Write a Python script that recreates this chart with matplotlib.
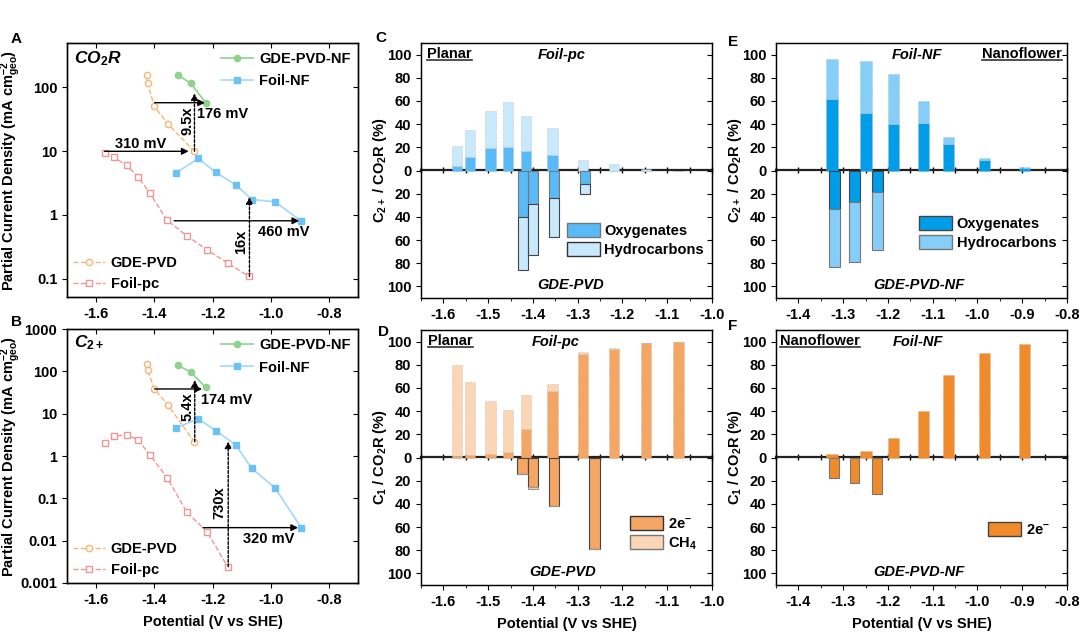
import matplotlib
matplotlib.use("Agg")
import matplotlib.pyplot as plt
from matplotlib.ticker import FixedLocator, MultipleLocator, NullLocator
from matplotlib.lines import Line2D
from matplotlib.patches import Patch

plt.rcParams['font.family'] = ['Liberation Sans', 'DejaVu Sans']
plt.rcParams['font.weight'] = 'bold'
plt.rcParams['axes.labelweight'] = 'bold'
plt.rcParams['axes.unicode_minus'] = False
plt.rcParams['mathtext.fontset'] = 'custom'
plt.rcParams['mathtext.rm'] = 'Liberation Sans:bold'
plt.rcParams['mathtext.bf'] = 'Liberation Sans:bold'
plt.rcParams['mathtext.it'] = 'Liberation Sans:italic:bold'
plt.rcParams['mathtext.default'] = 'rm'

# potentials (V vs SHE)
v_pc = [-1.570, -1.540, -1.495, -1.456, -1.415, -1.356, -1.288, -1.219, -1.148, -1.075]
v_gde = [-1.426, -1.423, -1.400, -1.353, -1.263]
v_gde_nf = [-1.320, -1.274, -1.224]
v_nf = [-1.325, -1.249, -1.188, -1.120, -1.065, -0.985, -0.895]
v_gde_bar_c = [-1.422, -1.399, -1.353, -1.283]
v_gde_bar_d = [-1.423, -1.400, -1.353, -1.263]

# A: CO2R partial current density (mA cm-2)
co2r_gde = [156, 114, 50, 26.5, 9.9]
co2r_gde_nf = [156, 114, 57]
co2r_nf = [4.57, 7.64, 4.62, 2.97, 1.74, 1.61, 0.80]
co2r_pc = [9.15, 8.02, 5.94, 3.96, 2.18, 0.826, 0.471, 0.285, 0.177, 0.109]

# B: C2+ partial current density
c2_gde = [152, 106, 39, 16, 2.18]
c2_gde_nf = [139, 96, 42]
c2_nf = [4.58, 7.62, 3.96, 1.82, 0.51, 0.175, 0.0203]
c2_pc = [1.99, 2.92, 3.19, 2.39, 1.06, 0.31, 0.047, 0.0163, 0.00243]

# C: C2+ / CO2R (%), planar
c_pc_oxy = [4, 12, 19, 20, 17, 13, 0, 0, 0, 0]
c_pc_hc = [17, 23, 32.5, 39.5, 30, 24, 9.3, 5.5, 1.4, 0]
c_gde_oxy = [40, 29, 23.4, 11.8]
c_gde_hc = [46, 43.5, 34.1, 8.7]

# D: C1 / CO2R (%), planar
d_pc_2e = [1, 2, 3, 5, 25, 57, 89, 94, 98.5, 100]
d_pc_ch4 = [78.7, 63, 45.7, 36.4, 28.6, 6.8, 1.7, 0.5, 0.5, 0]
d_gde_2e = [13.9, 25.5, 41.5, 79]
d_gde_ch4 = [0.5, 1.5, 0.5, 0]

# E: C2+ / CO2R (%), nanoflower
e_nf_oxy = [62, 49.6, 40.3, 40.9, 23, 9.2, 2.5]
e_nf_hc = [34.3, 44.6, 43.3, 19.3, 5.8, 1.2, 0.1]
e_gde_oxy = [33.4, 26.8, 18.7]
e_gde_hc = [49.6, 51.9, 49.9]

# F: C1 / CO2R (%), nanoflower
f_nf_2e = [2.9, 5.2, 16.5, 40, 71, 89.9, 98]
f_gde_2e = [17.4, 21.7, 31.3]

W, H = 1080, 642
def box(l, t, r, b):
    return [l / W, 1 - b / H, (r - l) / W, (b - t) / H]

fig = plt.figure(figsize=(10.8, 6.42), dpi=100)
axA = fig.add_axes(box(67, 43, 358, 297))
axB = fig.add_axes(box(67, 329, 358, 583))
axC = fig.add_axes(box(421, 43, 712, 298))
axD = fig.add_axes(box(421, 330, 712, 585))
axE = fig.add_axes(box(776, 43, 1067, 298))
axF = fig.add_axes(box(776, 330, 1067, 585))

green = '#8dd28d'
blue = '#6cc2f2'
blue_line = '#a3d8f6'
orange = '#f7b676'
red = '#f09696'
TF = 10.5
LF = 10.5

underlines = []


def arrow(ax, x0, y0, x1, y1, dashed=False):
    ax.annotate('', xy=(x1, y1), xytext=(x0, y0),
                arrowprops=dict(arrowstyle='-|>', color='black', lw=1.0,
                                linestyle=(0, (2, 1.2)) if dashed else '-',
                                shrinkA=0, shrinkB=0, mutation_scale=10))


def mirror(ax, yticks, xticks=None):
    # right (and top) ticks point inward, while left/bottom point outward
    ty = ax.twinx()
    ty.set_yscale(ax.get_yscale())
    ty.set_ylim(ax.get_ylim())
    ty.yaxis.set_major_locator(FixedLocator(yticks))
    ty.yaxis.set_minor_locator(NullLocator())
    ty.tick_params(axis='y', direction='in', length=3.5, labelright=False)
    twins = [ty]
    if xticks is not None:
        tx = ax.twiny()
        tx.set_xlim(ax.get_xlim())
        tx.xaxis.set_major_locator(FixedLocator(xticks))
        tx.tick_params(axis='x', direction='in', length=3.5, labeltop=False)
        twins.append(tx)
    for a in twins:
        for s in a.spines.values():
            s.set_linewidth(0.9)


def line_panel(ax, gde, gde_nf, nf, pc, ylim, yticks, yticklabels):
    ax.set_yscale('log')
    lg1, = ax.plot(v_gde_nf, gde_nf, '-o', color=green, ms=4.5, lw=1.2, label='GDE-PVD-NF')
    lg2, = ax.plot(v_nf, nf, '-s', color=blue_line, mfc=blue, mec=blue, ms=4.5, lw=1.2, label='Foil-NF')
    lg3, = ax.plot(v_gde, gde, '--o', color=orange, mfc='white', mec=orange, ms=4.5, lw=1.0, label='GDE-PVD')
    lg4, = ax.plot(v_pc[:len(pc)], pc, '--s', color=red, mfc='white', mec=red, ms=4.5, lw=1.0, label='Foil-pc')
    ax.set_xlim(-1.7, -0.7)
    ax.set_ylim(*ylim)
    ax.xaxis.set_major_locator(FixedLocator([-1.6, -1.4, -1.2, -1.0, -0.8]))
    ax.set_xticklabels(['-1.6', '-1.4', '-1.2', '-1.0', '-0.8'])
    ax.yaxis.set_major_locator(FixedLocator(yticks))
    ax.yaxis.set_minor_locator(NullLocator())
    ax.set_yticklabels(yticklabels)
    ax.tick_params(direction='out', length=3.5, labelsize=TF)
    ax.set_ylabel('Partial Current Density (mA cm$^{-2}_{geo}$)', fontsize=LF)
    ax.yaxis.set_label_coords(-0.15, 0.5)
    for s in ax.spines.values():
        s.set_linewidth(0.9)
    l1 = ax.legend(handles=[lg1, lg2], loc='upper left', bbox_to_anchor=(0.5, 1.0),
                   frameon=False, fontsize=LF, handlelength=2.2, handletextpad=0.4,
                   labelspacing=0.6, borderaxespad=0.2)
    ax.add_artist(l1)
    ax.legend(handles=[lg3, lg4], loc='lower left', bbox_to_anchor=(-0.01, -0.01),
              frameon=False, fontsize=LF, handlelength=2.2, handletextpad=0.4,
              labelspacing=0.45, borderaxespad=0.2)
    mirror(ax, yticks, [-1.6, -1.4, -1.2, -1.0, -0.8])


line_panel(axA, co2r_gde, co2r_gde_nf, co2r_nf, co2r_pc, (0.052, 490),
           [0.1, 1, 10, 100], ['0.1', '1', '10', '100'])
axA.text(0.024, 0.94, r'$\mathit{CO_2R}$', transform=axA.transAxes, fontsize=12.5, va='center')
arrow(axA, -1.571, 9.9, -1.282, 9.9)
axA.text(-1.447, 13.1, '310 mV', ha='center', va='center', fontsize=LF)
arrow(axA, -1.399, 57, -1.226, 57)
axA.text(-1.253, 38.4, '176 mV', ha='left', va='center', fontsize=LF)
arrow(axA, -1.262, 9.9, -1.262, 80, dashed=True)
axA.text(-1.287, 30, '9.5x', rotation=90, ha='center', va='center', fontsize=LF)
arrow(axA, -1.332, 0.81, -0.902, 0.81)
axA.text(-0.956, 0.55, '460 mV', ha='center', va='center', fontsize=LF)
arrow(axA, -1.073, 0.109, -1.073, 1.9, dashed=True)
axA.text(-1.101, 0.38, '16x', rotation=90, ha='center', va='center', fontsize=LF)

line_panel(axB, c2_gde, c2_gde_nf, c2_nf, c2_pc, (0.001, 1000),
           [0.001, 0.01, 0.1, 1, 10, 100, 1000],
           ['0.001', '0.01', '0.1', '1', '10', '100', '1000'])
axB.text(0.024, 0.945, r'$\mathit{C_{2+}}$', transform=axB.transAxes, fontsize=12.5, va='center')
arrow(axB, -1.399, 38.3, -1.236, 38.3)
axB.text(-1.153, 21.4, '174 mV', ha='center', va='center', fontsize=LF)
arrow(axB, -1.261, 2.17, -1.261, 62, dashed=True)
axB.text(-1.286, 15.0, '5.4x', rotation=90, ha='center', va='center', fontsize=LF)
arrow(axB, -1.146, 0.00243, -1.146, 2.2, dashed=True)
axB.text(-1.176, 0.078, '730x', rotation=90, ha='center', va='center', fontsize=LF)
arrow(axB, -1.233, 0.0203, -0.906, 0.0203)
axB.text(-1.008, 0.011, '320 mV', ha='center', va='center', fontsize=LF)
axB.set_xlabel('Potential (V vs SHE)', fontsize=LF, labelpad=6)


def bar_panel(ax, xlim, xticks, ylabel):
    ax.set_xlim(*xlim)
    ax.set_ylim(-110, 110)
    yt = list(range(-100, 101, 20))
    ax.yaxis.set_major_locator(FixedLocator(yt))
    ax.set_yticklabels([str(abs(v)) for v in yt])
    ax.xaxis.set_major_locator(FixedLocator(xticks))
    ax.set_xticklabels(['%.1f' % v for v in xticks])
    ax.xaxis.set_minor_locator(MultipleLocator(0.05))
    ax.tick_params(direction='out', length=3.5, labelsize=TF)
    ax.tick_params(which='minor', direction='out', length=2.5)
    ax.set_ylabel(ylabel, fontsize=LF)
    ax.yaxis.set_label_coords(-0.11, 0.5)
    for s in ax.spines.values():
        s.set_linewidth(0.9)
    zero = ax.secondary_xaxis(0.5)
    zero.set_xticks(xticks)
    zero.xaxis.set_minor_locator(MultipleLocator(0.05))
    zero.tick_params(which='both', direction='inout', length=5, width=1.0,
                     labeltop=False, labelbottom=False)
    for s in zero.spines.values():
        s.set_linewidth(1.6)
        s.set_color('#222222')
    mirror(ax, yt)


def label_text(ax, x, y, s, ha='center', italic=True, underline=False):
    t = ax.text(x, y, s, transform=ax.transAxes, ha=ha, va='center', fontsize=LF,
                style='italic' if italic else 'normal')
    if underline:
        underlines.append(t)


xt_c = [-1.6, -1.5, -1.4, -1.3, -1.2, -1.1, -1.0]
xt_e = [-1.4, -1.3, -1.2, -1.1, -1.0, -0.9, -0.8]
leg_kw = dict(loc='upper left', frameon=False, fontsize=LF, handlelength=2.3,
              handleheight=1.1, handletextpad=0.3, labelspacing=0.3)

# C
c_oxy, c_hc = '#58bbf8', '#c8e8fc'
bar_panel(axC, (-1.65, -1.0), xt_c, 'C$_{2+}$ / CO$_2$R (%)')
top_kw = dict(edgecolor='#b0b0b0', linewidth=0.5, linestyle=':')
bot_kw = dict(edgecolor='#444444', linewidth=0.8)
axC.bar(v_pc, c_pc_oxy, width=0.023, color=c_oxy, **top_kw)
axC.bar(v_pc, c_pc_hc, width=0.023, bottom=c_pc_oxy, color=c_hc, **top_kw)
axC.bar(v_gde_bar_c, [-v for v in c_gde_oxy], width=0.022, color=c_oxy, edgecolor='#777777', linewidth=0.8)
axC.bar(v_gde_bar_c, [-v for v in c_gde_hc], width=0.022, bottom=[-v for v in c_gde_oxy],
        color=c_hc, **bot_kw)
axC.legend(handles=[Patch(facecolor=c_oxy, edgecolor='#777777', label='Oxygenates'),
                    Patch(facecolor=c_hc, edgecolor='#333333', label='Hydrocarbons')],
           bbox_to_anchor=(0.455, 0.345), **leg_kw)
label_text(axC, 0.021, 0.957, 'Planar', ha='left', italic=False, underline=True)
label_text(axC, 0.485, 0.953, 'Foil-pc')
label_text(axC, 0.515, 0.052, 'GDE-PVD')

# D
d_2e, d_ch4 = '#f4a664', '#fad6b6'
bar_panel(axD, (-1.65, -1.0), xt_c, 'C$_1$ / CO$_2$R (%)')
axD.bar(v_pc, d_pc_2e, width=0.023, color=d_2e, **top_kw)
axD.bar(v_pc, d_pc_ch4, width=0.023, bottom=d_pc_2e, color=d_ch4, **top_kw)
axD.bar(v_gde_bar_d, [-v for v in d_gde_2e], width=0.024, color=d_2e, **bot_kw)
axD.bar(v_gde_bar_d, [-v for v in d_gde_ch4], width=0.024, bottom=[-v for v in d_gde_2e],
        color=d_ch4, edgecolor='#999999', linewidth=0.8)
axD.legend(handles=[Patch(facecolor=d_2e, edgecolor='#333333', label='2e$^{-}$'),
                    Patch(facecolor=d_ch4, edgecolor='#777777', label='CH$_4$')],
           bbox_to_anchor=(0.672, 0.322), **leg_kw)
label_text(axD, 0.024, 0.957, 'Planar', ha='left', italic=False, underline=True)
label_text(axD, 0.464, 0.953, 'Foil-pc')
label_text(axD, 0.488, 0.052, 'GDE-PVD')
axD.set_xlabel('Potential (V vs SHE)', fontsize=LF, labelpad=6)

# E
e_oxy, e_hc = '#009de8', '#84cef8'
bar_panel(axE, (-1.45, -0.8), xt_e, 'C$_{2+}$ / CO$_2$R (%)')
axE.bar(v_nf, e_nf_oxy, width=0.025, color=e_oxy, **top_kw)
axE.bar(v_nf, e_nf_hc, width=0.025, bottom=e_nf_oxy, color=e_hc, **top_kw)
axE.bar(v_gde_nf, [-v for v in e_gde_oxy], width=0.025, color=e_oxy, **bot_kw)
axE.bar(v_gde_nf, [-v for v in e_gde_hc], width=0.025, bottom=[-v for v in e_gde_oxy],
        color=e_hc, edgecolor='#777777', linewidth=0.8)
axE.legend(handles=[Patch(facecolor=e_oxy, edgecolor='#444444', label='Oxygenates'),
                    Patch(facecolor=e_hc, edgecolor='#777777', label='Hydrocarbons')],
           bbox_to_anchor=(0.446, 0.374), **leg_kw)
label_text(axE, 0.485, 0.953, 'Foil-NF')
label_text(axE, 0.983, 0.957, 'Nanoflower', ha='right', italic=False, underline=True)
label_text(axE, 0.491, 0.052, 'GDE-PVD-NF')

# F
f_2e = '#f08b2c'
bar_panel(axF, (-1.45, -0.8), xt_e, 'C$_1$ / CO$_2$R (%)')
axF.bar(v_nf, f_nf_2e, width=0.025, color=f_2e, **top_kw)
axF.bar(v_gde_nf, [-v for v in f_gde_2e], width=0.021, color=f_2e, edgecolor='#777777', linewidth=0.8)
axF.legend(handles=[Patch(facecolor=f_2e, edgecolor='#444444', label='2e$^{-}$')],
           bbox_to_anchor=(0.682, 0.297), **leg_kw)
label_text(axF, 0.014, 0.957, 'Nanoflower', ha='left', italic=False, underline=True)
label_text(axF, 0.488, 0.953, 'Foil-NF')
label_text(axF, 0.491, 0.052, 'GDE-PVD-NF')
axF.set_xlabel('Potential (V vs SHE)', fontsize=LF, labelpad=6)

# panel letters
for s, x, y in [('A', 11, 39), ('B', 11, 322), ('C', 375, 38), ('D', 378, 332),
                ('E', 728, 42), ('F', 728, 326)]:
    fig.text(x / W, 1 - y / H, s, fontsize=11, fontweight='bold', ha='left', va='center')

# underline the section words
fig.canvas.draw()
inv = fig.transFigure.inverted()
for t in underlines:
    bb = t.get_window_extent()
    (x0, y0), (x1, y1) = inv.transform([(bb.x0, bb.y0 + 1), (bb.x1, bb.y0 + 1)])
    fig.add_artist(Line2D([x0, x1], [y0, y1], transform=fig.transFigure,
                          color='#333333', lw=1.2))

fig.savefig('out.png', dpi=100)
